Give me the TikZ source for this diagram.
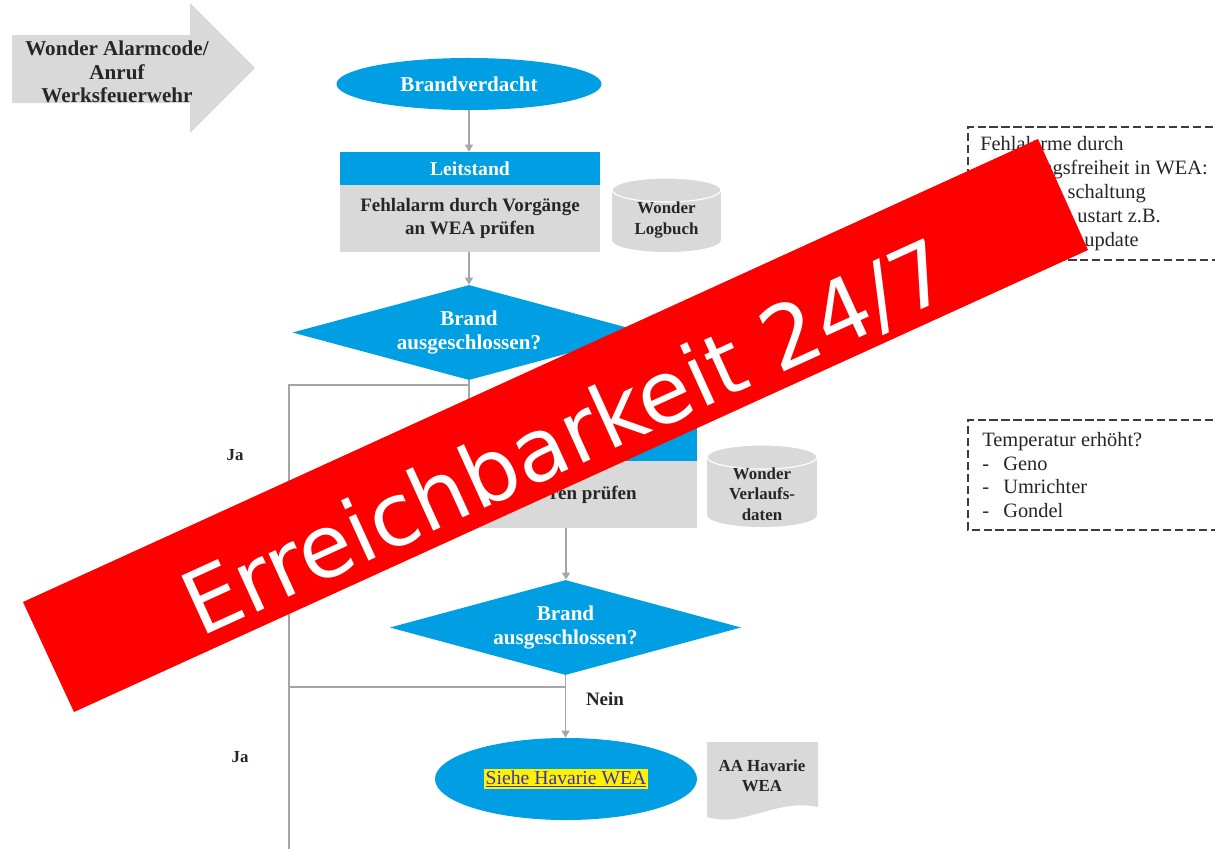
\documentclass[tikz,border=0pt]{standalone}
\usepackage{fontspec}
\setmainfont{Liberation Serif}
\newfontfamily\bannerfont{DejaVu Sans}
\usetikzlibrary{shapes.geometric,arrows.meta}
\definecolor{wblue}{RGB}{0,159,227}
\definecolor{wgray}{RGB}{217,217,217}
\definecolor{lgray}{RGB}{166,166,166}
\definecolor{dtext}{RGB}{38,38,38}
\definecolor{linkc}{RGB}{60,50,180}
\definecolor{bred}{RGB}{254,0,0}
\newcommand\pxu{0.7113pt}
\begin{document}
\begin{tikzpicture}[x=0.025cm,y=-0.025cm,
  conn/.style={draw=lgray,line width=1.4pt},
  arr/.style={conn,-{Triangle[length=5pt,width=5.5pt]}},
  titletxt/.style={text=white,font=\bfseries\fontsize{15}{17}\selectfont,align=center,inner sep=0pt},
  bodytxt/.style={text=dtext,font=\bfseries\fontsize{13.5}{16.4}\selectfont,align=center,inner sep=0pt},
  smalltxt/.style={text=dtext,font=\bfseries\fontsize{12}{14.5}\selectfont,align=center,inner sep=0pt},
  notetxt/.style={text=dtext,font=\fontsize{14.5}{17}\selectfont,inner sep=0pt},
  dashbox/.style={draw={rgb,255:red,60;green,60;blue,60},line width=1.2pt,dash pattern=on 6pt off 2.5pt},
  graybox/.style={fill=wgray,draw=none}
]
\useasboundingbox (0,0) rectangle (1215,848);
\fill[white] (0,0) rectangle (1215,848);

% start arrow
\fill[wgray] (12,35) -- (190,35) -- (190,3) -- (255,68) -- (190,133) -- (190,103) -- (12,103) -- cycle;
\node[text=dtext,font=\bfseries\fontsize{15}{16.7}\selectfont,align=center,inner sep=0pt] (start) at (117,72) {Wonder Alarmcode/\\Anruf\\Werksfeuerwehr};

% Brandverdacht
\node[ellipse,fill=wblue,minimum width={265*\pxu},minimum height={52*\pxu},titletxt] (bv) at (469,84) {Brandverdacht};

% Leitstand box 1
\node[rectangle,fill=wblue,minimum width={260*\pxu},minimum height={33*\pxu},titletxt,font=\bfseries\fontsize{14}{16}\selectfont] (r1h) at (470,168.5) {Leitstand};
\node[rectangle,graybox,minimum width={260*\pxu},minimum height={67*\pxu},bodytxt] (r1b) at (470,218.5) {Fehlalarm durch Vorgänge\\an WEA prüfen};

% cylinder 1
\fill[wgray] (612,190) rectangle (721,240);
\fill[wgray] (666.5,240) ellipse [x radius=54.5,y radius=12];
\fill[wgray] (666.5,190) ellipse [x radius=54.5,y radius=12];
\draw[white,line width=0.8pt] (666.5,190) ellipse [x radius=54.5,y radius=12];
\node[smalltxt] (cyl1) at (666.5,220) {Wonder\\Logbuch};

% diamond 1
\node[diamond,aspect=3.7,fill=wblue,minimum width={353*\pxu},minimum height={95*\pxu},titletxt] (d1) at (469,332.5) {Brand\\ausgeschlossen?};

% box 2
\node[rectangle,fill=wblue,minimum width={262*\pxu},minimum height={35*\pxu},inner sep=0pt] (r2h) at (566,443.5) {};
\node[rectangle,graybox,minimum width={262*\pxu},minimum height={67*\pxu},inner sep=0pt] (r2b) at (566,494.5) {};
\node[bodytxt,anchor=east] (r2t) at (637,494.5) {ren prüfen};

% cylinder 2
\fill[wgray] (707,457) rectangle (817,515);
\fill[wgray] (762,515) ellipse [x radius=55,y radius=12];
\fill[wgray] (762,457) ellipse [x radius=55,y radius=12];
\draw[white,line width=0.8pt] (762,457) ellipse [x radius=55,y radius=12];
\node[smalltxt] (cyl2) at (762,494) {Wonder\\Verlaufs-\\daten};

% diamond 2
\node[diamond,aspect=3.7,fill=wblue,minimum width={351*\pxu},minimum height={95*\pxu},titletxt] (d2) at (565.5,627.5) {Brand\\ausgeschlossen?};

% ellipse 2
\node[ellipse,fill=wblue,minimum width={262*\pxu},minimum height={82*\pxu},inner sep=0pt] (e2) at (566,779)
  {\setlength{\fboxsep}{1pt}\colorbox{yellow}{\textcolor{linkc}{\fontsize{14}{16}\selectfont\underline{Siehe Havarie WEA}}}};

% document shape
\fill[wgray] (707,742) -- (818,742) -- (818,807) .. controls (775,798) and (745,828) .. (707,817) -- cycle;
\node[smalltxt] (aa) at (762,776) {AA Havarie\\WEA};

% connectors
\draw[arr] (bv.south) -- (bv.south |- r1h.north);
\draw[arr] (r1b.south -| d1.north) -- (d1.north);
\coordinate (ja1) at (289,385);
\coordinate (jend) at (289,850);
\coordinate (k1) at (469,405);
\draw[conn] (d1.south |- ja1) -- (ja1) -- (jend);
\draw[arr] (d1.south) -- (k1) -| (r2h.north);
\draw[arr] (r2b.south) -- (r2b.south |- d2.north);
\draw[arr] (d2.south) -- (d2.south |- e2.north);
\coordinate (ja2) at (289,687);
\draw[conn] (d2.south |- ja2) -- (ja2);

% labels
\node[smalltxt,font=\bfseries\fontsize{12}{14}\selectfont] (jal1) at (235,455) {Ja};
\node[smalltxt,font=\bfseries\fontsize{12}{14}\selectfont] (jal2) at (240,757) {Ja};
\node[bodytxt,font=\bfseries\fontsize{13.5}{16}\selectfont] (nein2) at (605,699) {Nein};

% note boxes
\draw[dashbox] (1225,127) -- (968,127) -- (968,260) -- (1225,260);
\node[notetxt,anchor=base west] (n1a) at (980,150) {Fehlalarme durch};
\node[notetxt,anchor=base east] (n1b) at (1208,174) {ngsfreiheit in WEA:};
\node[notetxt,anchor=base east] (n1c) at (1146,198) {schaltung};
\node[notetxt,anchor=base east] (n1d) at (1161,222) {ustart z.B.};
\node[notetxt,anchor=base east] (n1e) at (1139,246) {update};

\draw[dashbox] (1225,420) -- (968,420) -- (968,530) -- (1225,530);
\node[notetxt,anchor=base west] (n2a) at (982,446) {Temperatur erhöht?};
\node[notetxt,anchor=base west] (n2b) at (982,470) {-};
\node[notetxt,anchor=base west] (n2c) at (1003,470) {Geno};
\node[notetxt,anchor=base west] (n2d) at (982,493) {-};
\node[notetxt,anchor=base west] (n2e) at (1003,493) {Umrichter};
\node[notetxt,anchor=base west] (n2f) at (982,517) {-};
\node[notetxt,anchor=base west] (n2g) at (1003,517) {Gondel};

% banner
\fill[bred] (23,602) -- (1038,139) -- (1088,250) -- (74,712) -- cycle;
\node[text=white,font=\bannerfont\fontsize{62}{70}\selectfont,rotate=24.5,anchor=base,inner sep=0pt] (banner) at (578.5,465.5) {Erreichbarkeit 24/7};
\end{tikzpicture}
\end{document}
